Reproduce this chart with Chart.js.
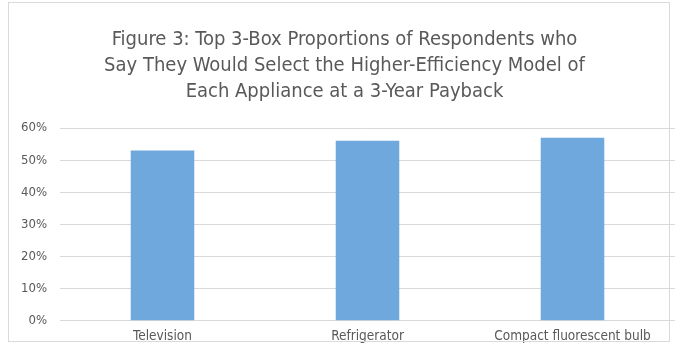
<!DOCTYPE html>
<html>
<head>
<meta charset="utf-8">
<script src="https://cdn.jsdelivr.net/npm/chart.js@4"></script>
<style>
  html, body { margin: 0; padding: 0; background: #fff; }
  #wrap { position: relative; width: 675px; height: 359px; overflow: hidden; }
  #frame { position: absolute; left: 8px; top: 2px; width: 660px; height: 338px; border: 1px solid #d9d9d9; pointer-events: none; }
  canvas { position: absolute; left: 0; top: 0; }
</style>
</head>
<body>
<div id="wrap">
  <canvas id="myChart" width="675" height="359"></canvas>
  <div id="frame"></div>
</div>
<script>
const categories = ["Television", "Refrigerator", "Compact fluorescent bulb"];
const shares = [53, 56, 57];
const yTicks = [0, 10, 20, 30, 40, 50, 60];
const titleLines = [
  "Figure 3: Top 3-Box Proportions of Respondents who",
  "Say They Would Select the Higher-Efficiency Model of",
  "Each Appliance at a 3-Year Payback",
];

const FONT = "'DejaVu Sans Condensed', 'Liberation Sans', Arial, sans-serif";
const GREY = "#595959";

new Chart("myChart", {
  type: "bar",
  data: {
    labels: categories,
    datasets: [
      {
        data: shares,
        backgroundColor: "#6fa8dc",
        categoryPercentage: 1,
        barPercentage: 0.31,
      },
    ],
  },
  options: {
    responsive: false,
    animation: false,
    layout: { padding: { top: 2, left: 14, right: 0, bottom: 14 } },
    plugins: {
      legend: { display: false },
      tooltip: { enabled: false },
      title: {
        display: true,
        text: titleLines,
        color: GREY,
        font: { family: FONT, size: 20, weight: "normal", lineHeight: 1.3 },
        padding: { top: 25, bottom: 23 },
      },
    },
    scales: {
      x: {
        grid: { display: false },
        border: { color: "#d9d9d9" },
        ticks: { color: GREY, font: { family: FONT, size: 13.5 }, padding: 0 },
      },
      y: {
        min: 0,
        max: 60,
        afterBuildTicks: (scale) => {
          scale.ticks = yTicks.map((v) => ({ value: v }));
        },
        afterFit: (scale) => {
          scale.width = 46;
        },
        grid: { color: "#d9d9d9", drawTicks: false },
        border: { display: false },
        ticks: {
          color: GREY,
          font: { family: FONT, size: 13 },
          padding: 13,
          callback: (v) => v + "%",
        },
      },
    },
  },
});
</script>
</body>
</html>
